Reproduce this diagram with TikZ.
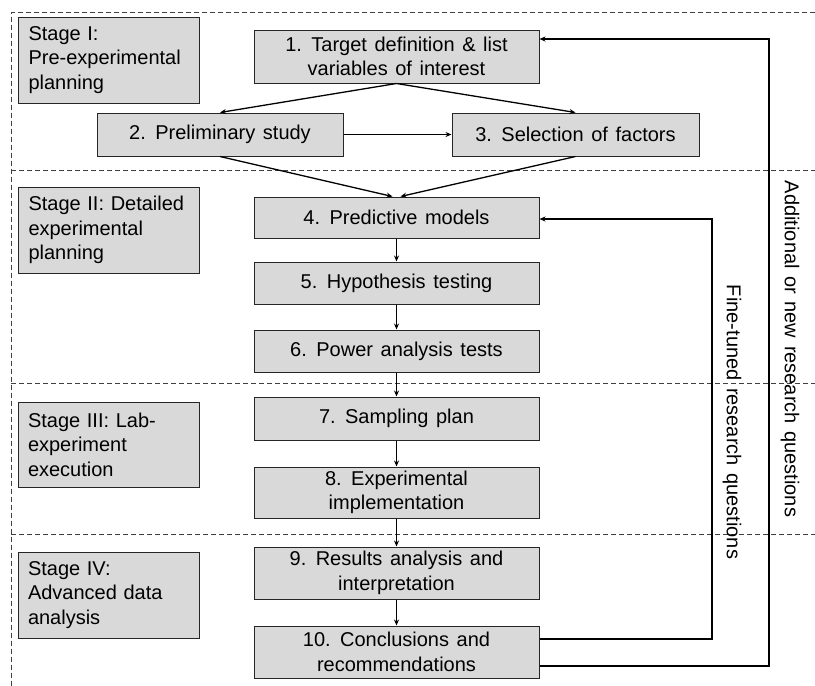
\documentclass[tikz,border=0pt]{standalone}
\usepackage{fontspec}
\setmainfont{Liberation Sans}
\usetikzlibrary{arrows.meta,calc}
\definecolor{boxfill}{HTML}{D9D9D9}
\definecolor{boxline}{HTML}{262626}
\newcommand\diagfont{\fontsize{20}{24.5}\selectfont\spaceskip=0.38em plus 0.1em\relax}
\begin{document}
\begin{tikzpicture}[x=1pt,y=-1pt,
  procbox/.style={font=\diagfont,draw=boxline,fill=boxfill,line width=1pt,rectangle,inner sep=0pt,align=center},
  stagebox/.style={font=\diagfont,draw=boxline,fill=boxfill,line width=1pt,rectangle,inner xsep=10pt,inner ysep=0pt,
    minimum width=181pt,text width=161pt,align=left},
  sep/.style={draw=black!75,line width=0.8pt,dash pattern=on 5pt off 3pt},
  conn/.style={draw=black,line width=1.3pt,-{Stealth[length=6pt,width=5pt]}},
  fb/.style={draw=black,line width=1.3pt,-{Stealth[length=6pt,width=5pt]}},
  vlabel/.style={font=\diagfont,rotate=-90,inner sep=0pt}]
\useasboundingbox (0,0) rectangle (815,686);
% separators
\coordinate (tl) at (11,12.5);
\coordinate (tr) at (815,12.5);
\coordinate (bl) at (11,686);
\coordinate (s1l) at (11,170); \coordinate (s1r) at (815,170);
\coordinate (s2l) at (11,383); \coordinate (s2r) at (815,383);
\coordinate (s3l) at (11,534); \coordinate (s3r) at (815,534);
\draw[sep] (tr) -- (tl) -- (bl);
\draw[sep] (s1l) -- (s1r);
\draw[sep] (s2l) -- (s2r);
\draw[sep] (s3l) -- (s3r);
% stage boxes
\node[stagebox,minimum height=86pt] (st1) at (109,60) {Stage I:\\Pre-experimental\\planning};
\node[stagebox,minimum height=86pt] (st2) at (109,230) {Stage II: Detailed\\experimental\\planning};
\node[stagebox,minimum height=85pt] (st3) at (108.5,444.5) {Stage III: Lab-\\experiment\\execution};
\node[stagebox,minimum height=86pt] (st4) at (108.5,595) {Stage IV:\\Advanced data\\analysis};
% process boxes
\node[procbox,minimum width=285pt,minimum height=53pt] (n1) at (396.5,56.5) {1. Target definition \& list\\variables of interest};
\node[procbox,minimum width=246pt,minimum height=43pt] (n2) at (220,134.5) {2. Preliminary study};
\node[procbox,minimum width=247pt,minimum height=43pt] (n3) at (575.5,134.5) {3. Selection of factors};
\node[procbox,minimum width=285pt,minimum height=41pt] (n4) at (396.5,217.5) {4. Predictive models};
\node[procbox,minimum width=285pt,minimum height=42pt] (n5) at (396.5,283) {5. Hypothesis testing};
\node[procbox,minimum width=285pt,minimum height=42pt] (n6) at (396.5,351) {6. Power analysis tests};
\node[procbox,minimum width=285pt,minimum height=43pt] (n7) at (396.5,418.5) {7. Sampling plan};
\node[procbox,minimum width=285pt,minimum height=51pt] (n8) at (396.5,492.5) {8. Experimental\\implementation};
\node[procbox,minimum width=285pt,minimum height=52pt] (n9) at (396.5,573) {9. Results analysis and\\interpretation};
\node[procbox,minimum width=285pt,minimum height=52pt] (n10) at (396.5,652) {10. Conclusions and\\recommendations};
% connectors
\draw[conn] (n1.south) -- (n2.north);
\draw[conn] (n1.south) -- (n3.north);
\draw[conn] (n2.east) -- (n3.west);
\draw[conn] (n2.south) -- ([xshift=-4pt]n4.north);
\draw[conn] (n3.south) -- ([xshift=4pt]n4.north);
\draw[conn] (n4) -- (n5);
\draw[conn] (n5) -- (n6);
\draw[conn] (n6) -- (n7);
\draw[conn] (n7) -- (n8);
\draw[conn] (n8) -- (n9);
\draw[conn] (n9) -- (n10);
% feedback loops
\coordinate (f1) at (712,639);
\coordinate (f1t) at (712,219);
\coordinate (f2) at (769,666);
\coordinate (f2t) at (769,39);
\draw[fb] (n10.east |- f1) -- (f1) -- (f1t) -- (n4.east |- f1t);
\draw[fb] (n10.east |- f2) -- (f2) -- (f2t) -- (n1.east |- f2t);
\node[vlabel] (lab1) at (732,422) {Fine-tuned research questions};
\node[vlabel] (lab2) at (790,349) {Additional or new research questions};
\end{tikzpicture}
\end{document}
